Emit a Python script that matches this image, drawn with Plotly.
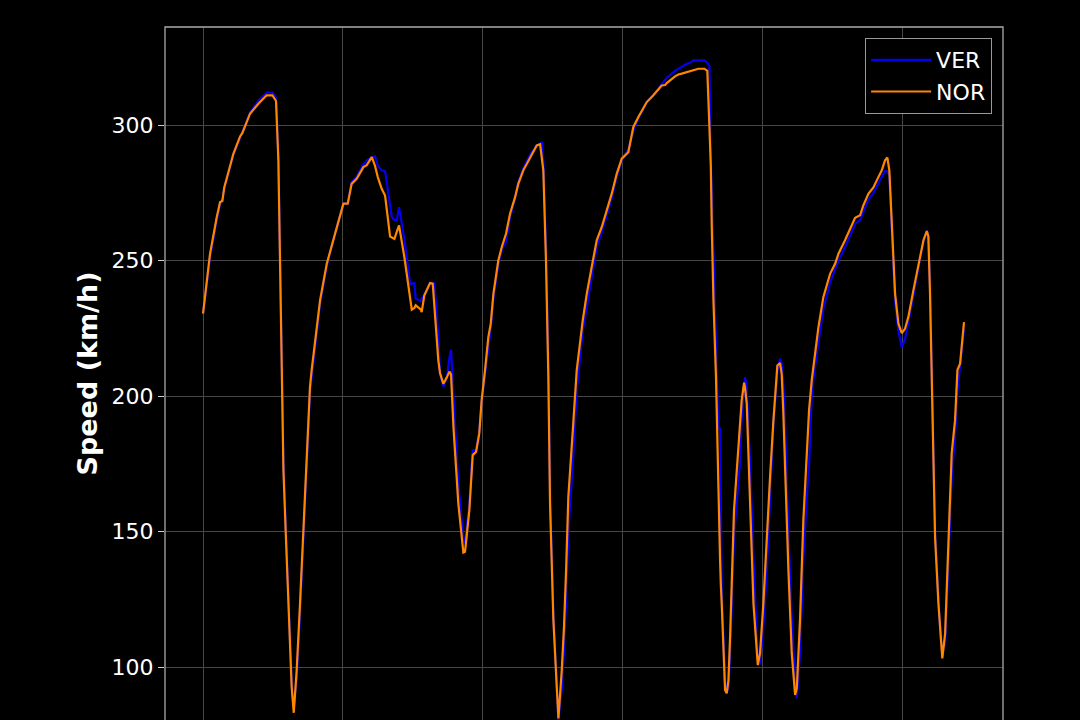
import plotly.graph_objects as go

distance = [0, 50, 98, 122, 138, 152, 217, 265, 281, 336, 396, 455, 496, 522, 539, 551, 563, 575, 591, 615,
            634, 649, 670, 694, 718, 742, 765, 777, 837, 885, 944, 1004, 1035, 1063, 1099, 1147, 1171, 1207, 1230, 1250,
            1278, 1302, 1338, 1350, 1369, 1385, 1402, 1440, 1481, 1493, 1512, 1521, 1557, 1564, 1583, 1624, 1643, 1655, 1683, 1695,
            1719, 1745, 1762, 1774, 1791, 1826, 1862, 1874, 1905, 1929, 1953, 1976, 1993, 2017, 2041, 2058, 2077, 2112, 2137, 2167,
            2196, 2232, 2255, 2291, 2339, 2387, 2411, 2423, 2434, 2453, 2470, 2482, 2506, 2530, 2542, 2566, 2582, 2597, 2613, 2645,
            2661, 2673, 2716, 2745, 2780, 2816, 2852, 2888, 2923, 2959, 2995, 3042, 3078, 3114, 3174, 3221, 3281, 3305, 3317, 3376,
            3400, 3424, 3460, 3484, 3507, 3543, 3586, 3607, 3622, 3632, 3639, 3651, 3669, 3686, 3698, 3704, 3710, 3734, 3746, 3758,
            3770, 3798, 3829, 3840, 3853, 3870, 3877, 3889, 3913, 3937, 3968, 3984, 4008, 4032, 4056, 4080, 4104, 4108, 4127, 4139,
            4150, 4163, 4187, 4211, 4235, 4247, 4270, 4294, 4323, 4335, 4354, 4370, 4402, 4437, 4485, 4521, 4545, 4592, 4635, 4664,
            4700, 4723, 4759, 4795, 4819, 4855, 4878, 4895, 4909, 4926, 4950, 4974, 4998, 5021, 5045, 5081, 5117, 5153, 5177, 5188,
            5200, 5212, 5236, 5260, 5277, 5288, 5308, 5331, 5355, 5379, 5396, 5415, 5443]

speed_nor = [230.4, 252.5, 266, 271.6, 272, 277, 289.4, 295.8, 297, 304.2, 307.9, 311, 311, 308.9, 287, 250, 207, 172.7, 150.5, 117.4,
             92.7, 83.1, 98.9, 123.6, 151.8, 178.9, 203.4, 209.6, 235.3, 248.8, 259.9, 271, 271, 278.3, 280.2, 284.5, 285.2, 288.2, 285, 280.8,
             276.5, 274, 258.9, 258.5, 258, 260.5, 263, 251.3, 237, 231.9, 232.5, 233.5, 232, 231, 237.2, 241.7, 241.5, 232, 213.2, 208.5,
             204.5, 207, 209, 208, 188.7, 160.4, 142.2, 142.5, 157.9, 178.2, 179.4, 186.2, 198.5, 209.6, 221.8, 226.7, 237.8, 250, 255, 259.9,
             267.3, 273.4, 278.3, 283.3, 288.2, 292.5, 292.9, 288, 283.3, 250, 207, 160.4, 117.4, 92.7, 81, 98.9, 114.9, 135.8, 162.8, 187.4,
             198.5, 209.6, 227.9, 237.8, 247.6, 257.5, 262.4, 268.5, 274.6, 282, 287.6, 290, 299.3, 303, 308.5, 311, 314.6, 314.8, 315.5, 318,
             318.7, 319, 319.5, 320, 320.3, 320.8, 320.8, 320, 299.3, 285, 262.4, 235, 207, 160.4, 140, 130, 123.5, 91.5, 90.3, 95,
             111.2, 157.9, 178.9, 189, 198.5, 204.9, 203, 197.3, 160.4, 123.5, 100.7, 105, 123.5, 148.1, 170.3, 191.1, 205.9, 211.3, 212.2, 208.2,
             195, 172.7, 135.8, 105, 89.7, 92, 117.4, 154.3, 185, 195, 205.9, 212, 225.5, 236.5, 245.1, 248.8, 252.5, 257.5, 262.4, 265.8,
             266.7, 270.4, 274.6, 277, 279.6, 283.3, 287, 288, 283.3, 262.4, 237.8, 226.7, 223.2, 224.8, 229.2, 239, 248.8, 257.5, 260.9, 259,
             237.8, 207, 148.1, 123.5, 108.7, 103.2, 112.4, 148.1, 178.9, 191.1, 209.6, 211.9, 227.3]

speed_ver = [230.4, 251, 265, 271, 272, 277, 289, 295.5, 297, 304.5, 309, 312, 312, 310, 289, 252, 210, 176, 153, 119,
             94, 85, 96, 120, 148, 176, 201, 207, 234, 248, 260, 271, 271, 279, 281, 285.5, 287, 288, 288.5, 285,
             283.3, 283, 270, 266, 265, 264.8, 269.7, 258, 241.4, 241.5, 241.7, 236, 235, 236, 237.3, 241.7, 241.5, 241.5, 222, 208.2,
             203.4, 207, 214, 217, 200, 168, 147, 146, 160, 180, 180, 187, 198, 208, 219, 225, 236, 248.5, 254, 257,
             266, 273, 279, 284, 289, 292.5, 293.2, 293.7, 287, 255, 212, 165, 119, 93, 80.5, 92, 106, 125, 150, 175,
             190, 202, 224, 233, 245, 255, 260.5, 267, 273, 281, 287, 291, 298, 302.5, 308.5, 311, 315, 316.5, 317.5, 320,
             320.8, 321.5, 322.6, 323, 323.9, 323.9, 323.9, 323, 321.7, 287, 275, 250, 215, 188.1, 188, 155, 128, 95, 91, 92,
             105, 148, 166.5, 175, 192, 203, 207, 203, 175, 140, 103, 101, 115, 135, 165, 190, 205, 209, 213.8, 212,
             205, 190, 150, 118, 95, 88.4, 105, 140, 166.5, 175, 200, 208, 220, 232, 242, 246.5, 250, 255, 260, 263.5,
             265, 268, 272.5, 275, 277.5, 281, 283, 283, 281.5, 260, 235, 224, 218, 221, 227, 237, 247.5, 257, 261, 259,
             240, 210, 150, 125, 110, 106, 108, 138, 170, 185, 202, 211, 224.8]

y_ticks = [100, 150, 200, 250, 300]
x_grid = [0, 1000, 2000, 3000, 4000, 5000]

fig = go.Figure()
fig.add_trace(go.Scatter(x=distance, y=speed_ver, mode="lines", name="VER",
                         line=dict(color="#0600EF", width=2.2)))
fig.add_trace(go.Scatter(x=distance, y=speed_nor, mode="lines", name="NOR",
                         line=dict(color="#FF8700", width=2.2)))

fig.update_layout(
    width=1080, height=720,
    paper_bgcolor="black", plot_bgcolor="black",
    margin=dict(l=165, r=77, t=27, b=0),
    font=dict(family="DejaVu Sans", color="white", size=21),
    showlegend=True,
    legend=dict(x=0.987, y=0.984, xanchor="right", yanchor="top",
                bgcolor="black", bordercolor="#999999", borderwidth=1,
                font=dict(size=22, color="white"), itemwidth=60,
                tracegroupgap=0),
    xaxis=dict(range=[-272, 5722], tickvals=x_grid, showticklabels=False,
               showgrid=True, gridcolor="#474747", gridwidth=1, zeroline=False,
               showline=False, ticks=""),
    yaxis=dict(range=[80.44, 336.2], tickvals=y_ticks, showgrid=True,
               gridcolor="#474747", gridwidth=1, zeroline=False, showline=False,
               ticks="outside", ticklen=6, tickcolor="#cccccc", tickwidth=1,
               tickfont=dict(size=22, color="white"),
               title=dict(text="<b>Speed (km/h)</b>", font=dict(size=27, color="white"), standoff=6)),
    shapes=[dict(type="rect", xref="paper", yref="paper", x0=0, x1=1, y0=-0.05, y1=1,
                 line=dict(color="#aaaaaa", width=1.3), fillcolor="rgba(0,0,0,0)", layer="above")],
)

fig.write_html("out.html", config={"displayModeBar": False},
               post_script="document.body.style.margin='0';document.body.style.background='black';")
